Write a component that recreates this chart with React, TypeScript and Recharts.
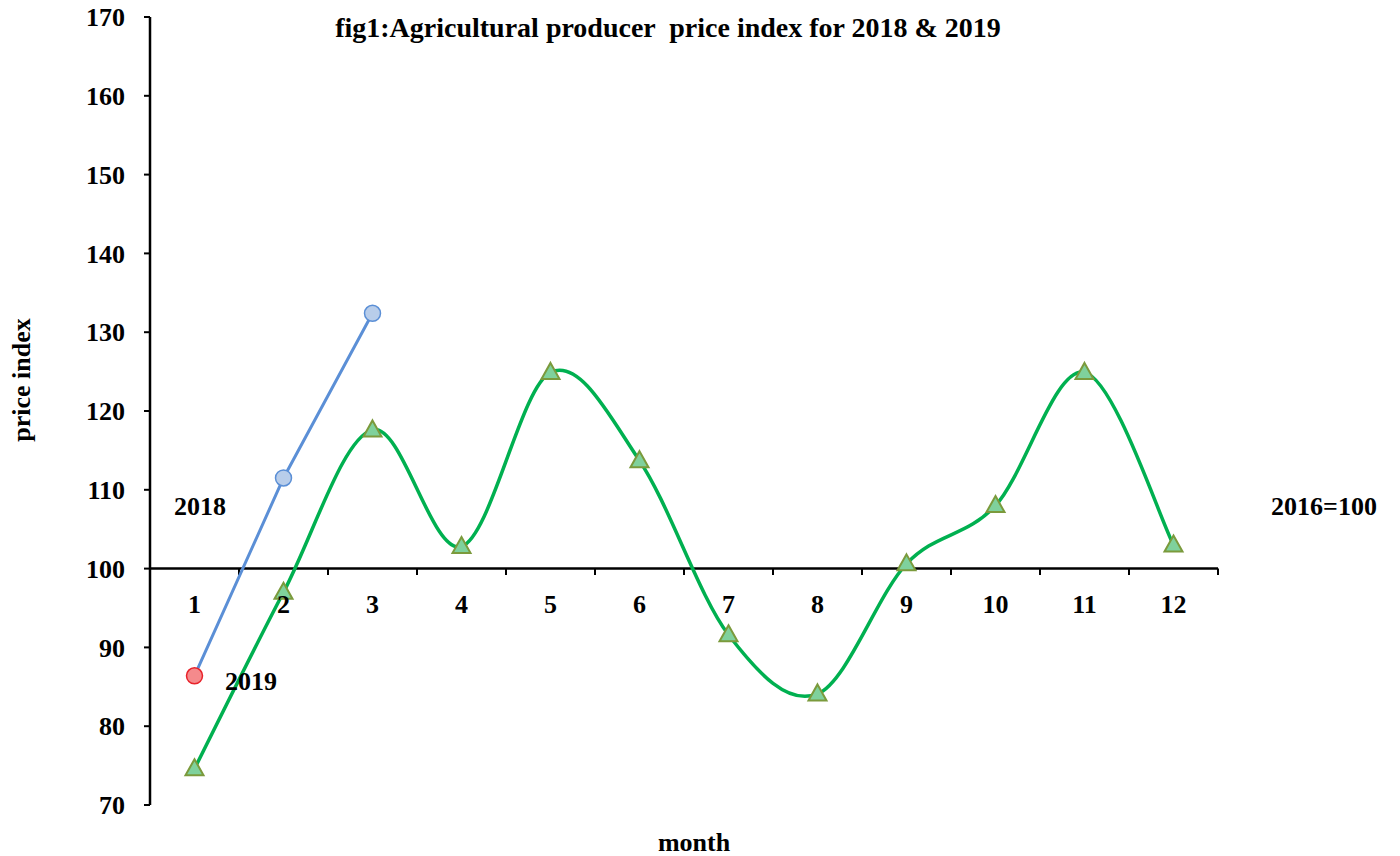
import { LineChart, Line, XAxis, YAxis, ReferenceLine, ReferenceDot } from "recharts";

const months = [1, 2, 3, 4, 5, 6, 7, 8, 9, 10, 11, 12];
const index2018 = [74.6, 97.0, 117.6, 102.8, 124.9, 113.7, 91.6, 84.1, 100.6, 108.0, 124.9, 103.0];
const index2019 = [86.4, 111.5, 132.4];
const yTicks = [70, 80, 90, 100, 110, 120, 130, 140, 150, 160, 170];
const boundaryTicks = [1.5, 2.5, 3.5, 4.5, 5.5, 6.5, 7.5, 8.5, 9.5, 10.5, 11.5, 12.5];

const data = months.map((m, i) => ({
  month: m,
  y2018: index2018[i],
  y2019: i < index2019.length ? index2019[i] : null,
}));

const FONT = '"Liberation Serif", "Times New Roman", serif';
const FS = 26;

// Excel style smoothing (catmull-rom like bezier)
function excelSmooth(context: any) {
  let pts: number[][] = [];
  return {
    areaStart() {},
    areaEnd() {},
    lineStart() {
      pts = [];
    },
    point(x: number, y: number) {
      pts.push([+x, +y]);
    },
    lineEnd() {
      const n = pts.length;
      if (!n) return;
      context.moveTo(pts[0][0], pts[0][1]);
      for (let i = 0; i < n - 1; i++) {
        const p0 = pts[Math.max(i - 1, 0)];
        const p1 = pts[i];
        const p2 = pts[i + 1];
        const p3 = pts[Math.min(i + 2, n - 1)];
        context.bezierCurveTo(
          p1[0] + (p2[0] - p0[0]) / 6,
          p1[1] + (p2[1] - p0[1]) / 6,
          p2[0] - (p3[0] - p1[0]) / 6,
          p2[1] - (p3[1] - p1[1]) / 6,
          p2[0],
          p2[1]
        );
      }
    },
  };
}

const Triangle = (props: any) => {
  const { cx, cy, index } = props;
  if (cx == null || cy == null) return <g key={index} />;
  return (
    <path
      key={index}
      d={`M${cx},${cy - 9.5} L${cx + 9},${cy + 6.5} L${cx - 9},${cy + 6.5} Z`}
      fill="#7fd19c"
      stroke="#7b9a3c"
      strokeWidth={2}
    />
  );
};

const Circle = (props: any) => {
  const { cx, cy, index } = props;
  if (cx == null || cy == null || props.value == null) return <g key={index} />;
  const first = index === 0;
  return (
    <circle
      key={index}
      cx={cx}
      cy={cy}
      r={8}
      fill={first ? "#f58a8c" : "#b8cdea"}
      stroke={first ? "#e8222a" : "#5b8fd6"}
      strokeWidth={1.5}
    />
  );
};

const txt: React.CSSProperties = {
  position: "absolute",
  fontFamily: FONT,
  fontWeight: 700,
  fontSize: FS,
  lineHeight: 1,
  color: "#000",
  whiteSpace: "pre",
  transform: "translate(-50%, -50%)",
};

export default function App() {
  return (
    <div style={{ position: "absolute", left: 0, top: 0, width: 1400, height: 856, background: "#fff" }}>
      <LineChart
        width={1400}
        height={856}
        data={data}
        margin={{ top: 17, right: 182, bottom: 51, left: 0 }}
      >
        <XAxis dataKey="month" type="number" domain={[0.5, 12.5]} hide />
        <YAxis
          width={150}
          domain={[70, 170]}
          ticks={yTicks}
          interval={0}
          tickSize={6}
          tickMargin={19}
          axisLine={{ stroke: "#000", strokeWidth: 2.5 }}
          tickLine={{ stroke: "#000", strokeWidth: 2 }}
          tick={{ fill: "#000", fontSize: FS, fontWeight: 700, fontFamily: FONT }}
        />
        <ReferenceLine
          segment={[
            { x: 0.5, y: 100 },
            { x: 12.5, y: 100 },
          ]}
          stroke="#000"
          strokeWidth={2.5}
        />
        {boundaryTicks.map((t) => (
          <ReferenceLine
            key={t}
            segment={[
              { x: t, y: 100 },
              { x: t, y: 99.2 },
            ]}
            stroke="#000"
            strokeWidth={2}
          />
        ))}
        {months.map((m) => (
          <ReferenceDot
            key={m}
            x={m}
            y={95.6}
            r={0}
            fill="none"
            stroke="none"
            label={{
              value: String(m),
              position: "center",
              fill: "#000",
              fontSize: FS,
              fontWeight: 700,
              fontFamily: FONT,
            }}
          />
        ))}
        <Line
          dataKey="y2018"
          type={excelSmooth as any}
          stroke="#00b050"
          strokeWidth={3.5}
          dot={<Triangle />}
          activeDot={false}
          isAnimationActive={false}
        />
        <Line
          dataKey="y2019"
          type="linear"
          stroke="#5b8fd6"
          strokeWidth={3}
          dot={<Circle />}
          activeDot={false}
          isAnimationActive={false}
        />
      </LineChart>
      <div style={{ ...txt, left: 668, top: 28, fontSize: 28 }}>
        {"fig1:Agricultural producer  price index for 2018 & 2019"}
      </div>
      <div style={{ ...txt, left: 22, top: 380, transform: "translate(-50%, -50%) rotate(-90deg)" }}>price index</div>
      <div style={{ ...txt, left: 694, top: 843 }}>month</div>
      <div style={{ ...txt, left: 200, top: 507 }}>2018</div>
      <div style={{ ...txt, left: 251, top: 682 }}>2019</div>
      <div style={{ ...txt, left: 1324, top: 507 }}>2016=100</div>
    </div>
  );
}
